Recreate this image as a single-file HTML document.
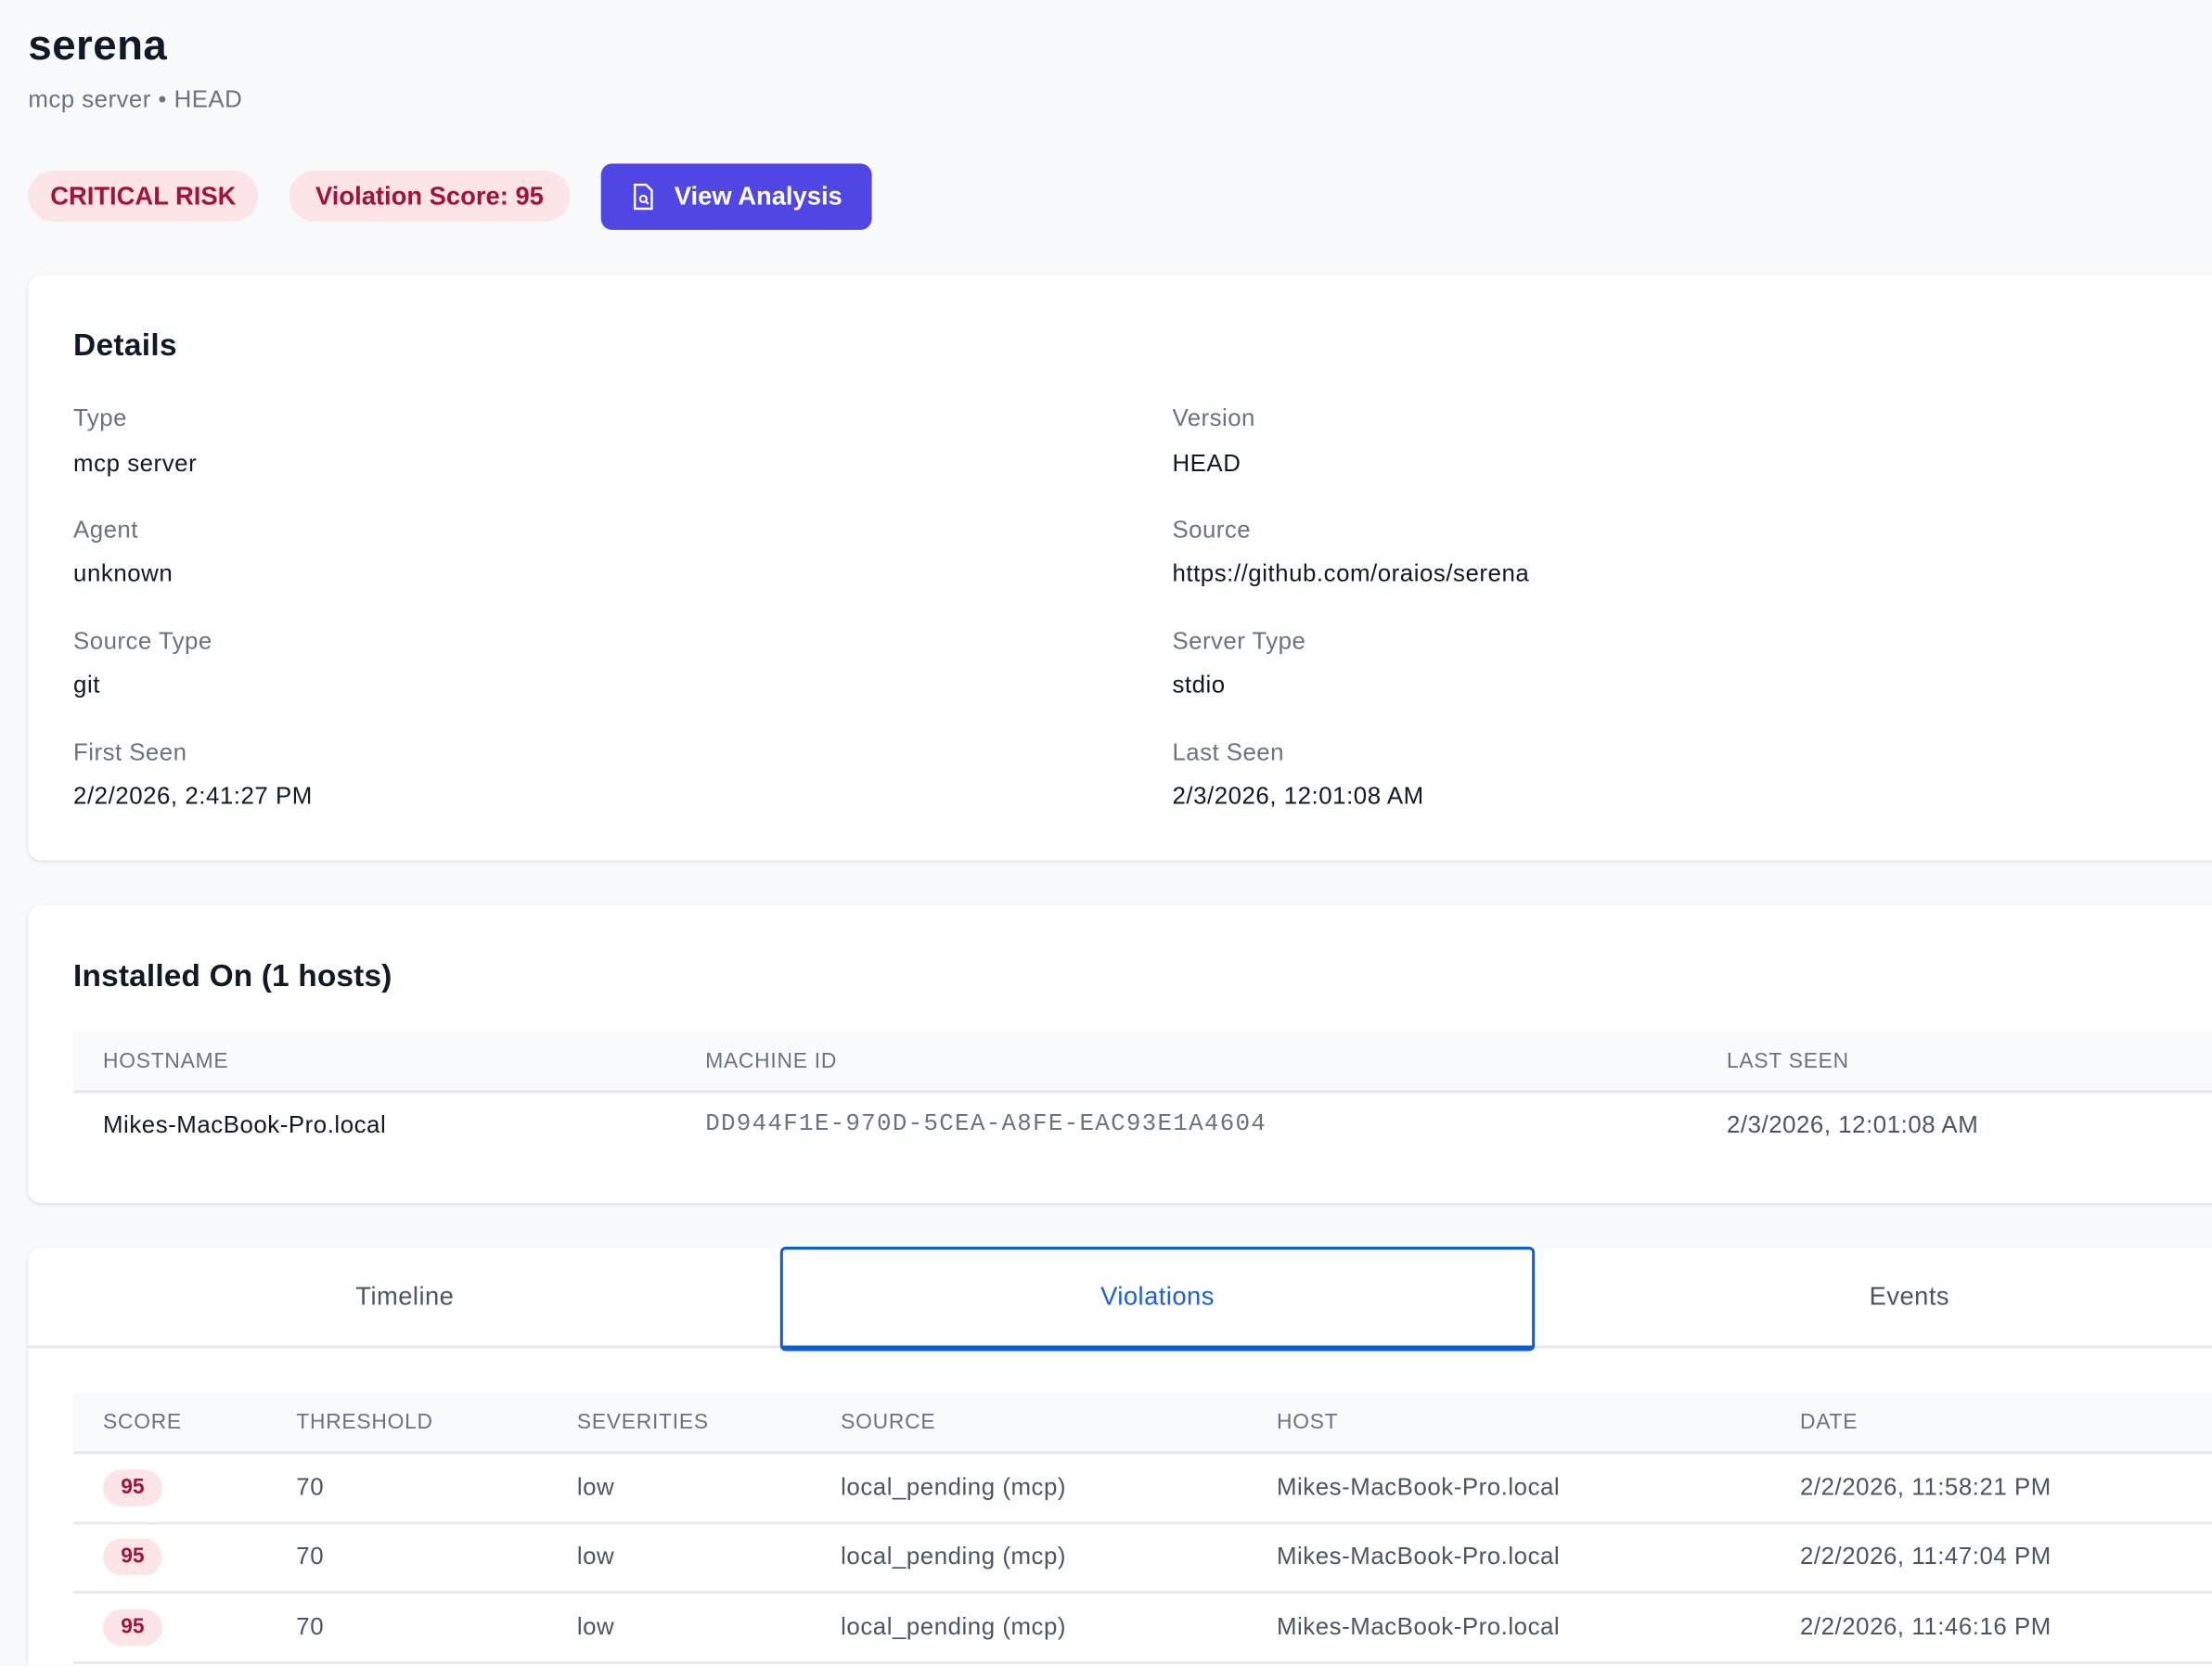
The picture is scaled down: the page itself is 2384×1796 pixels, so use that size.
<!DOCTYPE html>
<html><head><meta charset="utf-8"><style>
html,body{margin:0;padding:0;width:2384px;height:1796px;overflow:hidden;background:#f8f9fb;font-family:"Liberation Sans",sans-serif}
#w{position:absolute;left:0;top:0;width:1568px;height:1181px;overflow:hidden;transform:scale(1.5204);transform-origin:0 0}
.a{position:absolute;white-space:nowrap;line-height:24px;height:24px}
.card{position:absolute;left:20px;width:1600px;background:#fff;border-radius:9px;box-shadow:0 1px 3px rgba(0,0,0,.08),0 1px 2px rgba(0,0,0,.04)}
.lab{font-size:17px;color:#6b7280;letter-spacing:.3px}
.val{font-size:17px;color:#111827;letter-spacing:.35px}
.th{font-size:15px;color:#6b7280;letter-spacing:.5px}
.td{font-size:17px;color:#4b5563;letter-spacing:.35px}
.hb{position:absolute;left:52px;width:1560px;background:#f9fafb;border-bottom:2px solid #e5e7eb}
.rl{position:absolute;left:52px;width:1560px;height:2px;background:#e9eaee}
.b95{position:absolute;left:73px;width:42px;height:26px;border-radius:13px;background:#fde4e6;color:#a3123a;font-weight:bold;font-size:15px;text-align:center;line-height:26px}
</style></head><body><div id="w">
<div class="a" style="left:20px;top:16px;font-size:30px;font-weight:bold;color:#111827;line-height:34px;height:34px;letter-spacing:.3px">serena</div>
<div class="a" style="left:20px;top:59px;font-size:17px;color:#6b7280;letter-spacing:.3px">mcp server • HEAD</div>
<div style="position:absolute;left:20px;top:121px;width:163px;height:36px;border-radius:18px;background:#fde4e6;color:#a3123a;font-weight:bold;font-size:18px;text-align:center;line-height:36px">CRITICAL RISK</div>
<div style="position:absolute;left:205px;top:121px;width:199px;height:36px;border-radius:18px;background:#fde4e6;color:#a3123a;font-weight:bold;font-size:18px;text-align:center;line-height:36px">Violation Score: 95</div>
<div style="position:absolute;left:426px;top:116px;width:192px;height:47px;border-radius:8px;background:#5046e4;color:#fff;font-weight:bold;font-size:18px;line-height:47px">
<svg style="position:absolute;left:22px;top:14px" width="16" height="19" viewBox="0 0 16 19"><path d="M2 1h8l4 4v13H2z" fill="none" stroke="#fff" stroke-width="1.6"/><circle cx="8" cy="11" r="2.3" fill="none" stroke="#fff" stroke-width="1.4"/><path d="M9.6 12.6l2 2" stroke="#fff" stroke-width="1.4"/></svg>
<span style="position:absolute;left:52px">View Analysis</span></div>

<div class="card" style="top:195px;height:415px"></div>
<div class="a" style="left:52px;top:232px;font-size:22px;font-weight:bold;color:#111827;line-height:26px;letter-spacing:.2px">Details</div>
<div class="a lab" style="left:52px;top:285px">Type</div><div class="a val" style="left:52px;top:317px">mcp server</div>
<div class="a lab" style="left:52px;top:364px">Agent</div><div class="a val" style="left:52px;top:395px">unknown</div>
<div class="a lab" style="left:52px;top:443px">Source Type</div><div class="a val" style="left:52px;top:474px">git</div>
<div class="a lab" style="left:52px;top:522px">First Seen</div><div class="a val" style="left:52px;top:553px">2/2/2026, 2:41:27 PM</div>
<div class="a lab" style="left:831px;top:285px">Version</div><div class="a val" style="left:831px;top:317px">HEAD</div>
<div class="a lab" style="left:831px;top:364px">Source</div><div class="a val" style="left:831px;top:395px">https://github.com/oraios/serena</div>
<div class="a lab" style="left:831px;top:443px">Server Type</div><div class="a val" style="left:831px;top:474px">stdio</div>
<div class="a lab" style="left:831px;top:522px">Last Seen</div><div class="a val" style="left:831px;top:553px">2/3/2026, 12:01:08 AM</div>

<div class="card" style="top:642px;height:211px"></div>
<div class="a" style="left:52px;top:679px;font-size:22px;font-weight:bold;color:#111827;line-height:26px;letter-spacing:.1px">Installed On (1 hosts)</div>
<div class="hb" style="top:731px;height:42px"></div>
<div class="a th" style="left:73px;top:741px">HOSTNAME</div>
<div class="a th" style="left:500px;top:741px">MACHINE ID</div>
<div class="a th" style="left:1224px;top:741px">LAST SEEN</div>
<div class="a val" style="left:73px;top:786px">Mikes-MacBook-Pro.local</div>
<div class="a" style="left:500px;top:786px;font-family:'Liberation Mono',monospace;font-size:17px;color:#6b7280;letter-spacing:.85px">DD944F1E-970D-5CEA-A8FE-EAC93E1A4604</div>
<div class="a td" style="left:1224px;top:786px">2/3/2026, 12:01:08 AM</div>

<div class="card" style="top:885px;height:320px"></div>
<div style="position:absolute;left:20px;top:954px;width:1560px;height:2px;background:#e5e7eb"></div>
<div class="a" style="left:20px;width:534px;text-align:center;top:907px;font-size:18px;color:#4b5563;letter-spacing:.3px">Timeline</div>
<div style="position:absolute;left:553px;top:884px;width:531px;height:68px;border:2px solid #0b5fd6;border-bottom-width:4px;border-radius:4px"></div>
<div class="a" style="left:553px;width:535px;text-align:center;top:907px;font-size:18px;color:#1a5fe0;letter-spacing:.3px">Violations</div>
<div class="a" style="left:1087px;width:533px;text-align:center;top:907px;font-size:18px;color:#4b5563;letter-spacing:.3px">Events</div>
<div class="hb" style="top:988px;height:41px"></div>
<div class="a th" style="left:73px;top:997px">SCORE</div>
<div class="a th" style="left:210px;top:997px">THRESHOLD</div>
<div class="a th" style="left:409px;top:997px">SEVERITIES</div>
<div class="a th" style="left:596px;top:997px">SOURCE</div>
<div class="a th" style="left:905px;top:997px">HOST</div>
<div class="a th" style="left:1276px;top:997px">DATE</div>

<div class="b95" style="top:1042px">95</div>
<div class="a td" style="left:210px;top:1043px">70</div><div class="a td" style="left:409px;top:1043px">low</div><div class="a td" style="left:596px;top:1043px">local_pending (mcp)</div><div class="a td" style="left:905px;top:1043px">Mikes-MacBook-Pro.local</div><div class="a td" style="left:1276px;top:1043px">2/2/2026, 11:58:21 PM</div>
<div class="rl" style="top:1079px"></div>
<div class="b95" style="top:1091px">95</div>
<div class="a td" style="left:210px;top:1092px">70</div><div class="a td" style="left:409px;top:1092px">low</div><div class="a td" style="left:596px;top:1092px">local_pending (mcp)</div><div class="a td" style="left:905px;top:1092px">Mikes-MacBook-Pro.local</div><div class="a td" style="left:1276px;top:1092px">2/2/2026, 11:47:04 PM</div>
<div class="rl" style="top:1128px"></div>
<div class="b95" style="top:1141px">95</div>
<div class="a td" style="left:210px;top:1142px">70</div><div class="a td" style="left:409px;top:1142px">low</div><div class="a td" style="left:596px;top:1142px">local_pending (mcp)</div><div class="a td" style="left:905px;top:1142px">Mikes-MacBook-Pro.local</div><div class="a td" style="left:1276px;top:1142px">2/2/2026, 11:46:16 PM</div>
<div class="rl" style="top:1178px"></div>
</div></body></html>
